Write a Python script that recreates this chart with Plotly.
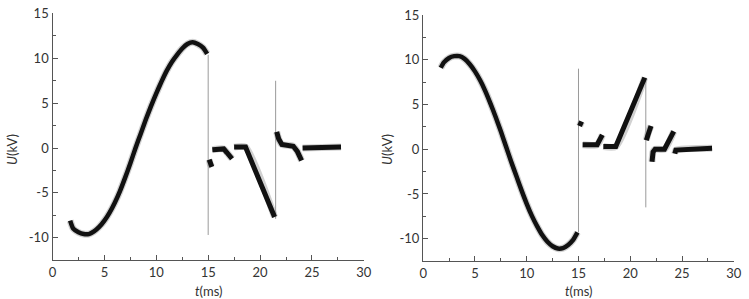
import plotly.graph_objects as go

# ---------------- data ----------------
# Left oscillogram: main waveform (t in ms, U in kV)
t_left_main = [1.7, 2.0, 2.5, 3.0, 3.5, 4.0, 4.5, 5.0, 5.5, 6.0, 6.5, 7.0, 7.5, 8.0,
               8.5, 9.0, 9.5, 10.0, 10.5, 11.0, 11.5, 12.0, 12.5, 13.0, 13.5, 14.0, 14.5, 14.9]
u_left_main = [-8.1, -9.0, -9.4, -9.6, -9.6, -9.3, -8.8, -8.1, -7.2, -6.1, -4.8, -3.3, -1.7, 0.0,
               1.6, 3.2, 4.7, 6.1, 7.4, 8.6, 9.6, 10.4, 11.1, 11.6, 11.8, 11.6, 11.2, 10.5]
# Left oscillogram: segments after switching (None separates segments)
t_left_post = [15.1, 15.2, 15.35, None,
               15.4, 16.5, 16.8, 17.3, None,
               17.5, 18.6, 21.4, None,
               21.6, 21.8, 22.1, 23.2, 23.6, 24.0, None,
               24.1, 27.8]
u_left_post = [-1.3, -1.8, -2.1, None,
               -0.2, -0.1, -0.5, -1.2, None,
               0.1, 0.1, -7.7, None,
               1.8, 1.0, 0.4, 0.2, -0.4, -1.4, None,
               0.0, 0.1]
# Left oscillogram: thin transient spikes
t_left_spike = [15.0, 15.0, None, 21.5, 21.5]
u_left_spike = [10.4, -9.7, None, -7.9, 7.5]

# Right oscillogram: main waveform
t_right_main = [1.7, 2.0, 2.5, 3.0, 3.5, 4.0, 4.5, 5.0, 5.5, 6.0, 6.5, 7.0, 7.5, 8.0,
                8.5, 9.0, 9.5, 10.0, 10.5, 11.0, 11.5, 12.0, 12.5, 13.0, 13.5, 14.0, 14.5, 14.9]
u_right_main = [9.1, 9.7, 10.2, 10.4, 10.4, 10.1, 9.5, 8.7, 7.7, 6.5, 5.1, 3.6, 2.0, 0.3,
                -1.4, -3.0, -4.6, -6.1, -7.45, -8.6, -9.6, -10.35, -10.85, -11.1, -11.05, -10.7, -10.1, -9.3]
t_right_post = [15.1, 15.3, None,
                15.4, 16.8, 17.3, None,
                17.4, 18.6, 21.4, None,
                21.55, 21.75, 22.0, None,
                22.1, 22.2, 22.4, 23.3, 24.2, None,
                24.3, 24.4, 27.9]
u_right_post = [2.6, 3.1, None,
                0.5, 0.5, 1.6, None,
                0.3, 0.3, 8.0, None,
                1.0, 1.9, 2.6, None,
                -1.4, -0.3, 0.0, 0.0, 2.0, None,
                -0.5, -0.1, 0.1]
t_right_spike = [15.0, 15.0, None, 21.5, 21.5]
u_right_spike = [-9.3, 9.0, None, 8.0, -6.5]

x_ticks = [0, 5, 10, 15, 20, 25, 30]
x_tick_labels = ["0", "5", "10", "15", "20", "25", "30"]
y_ticks = [-10, -5, 0, 5, 10, 15]
y_tick_labels = ["-10", "-5", "0", "5", "10", "15"]

# ---------------- figure ----------------
fig = go.Figure()

def add_panel(xa, ya, t_main, u_main, t_post, u_post, t_sp, u_sp):
    # fuzzy halo (noise band)
    for tt, uu in ((t_main, u_main), (t_post, u_post)):
        fig.add_trace(go.Scatter(x=tt, y=uu, mode="lines", xaxis=xa, yaxis=ya,
                                 line=dict(color="rgba(0,0,0,0.18)", width=7, shape="spline", smoothing=0.6),
                                 showlegend=False, hoverinfo="skip", connectgaps=False))
    fig.add_trace(go.Scatter(x=t_sp, y=u_sp, mode="lines", xaxis=xa, yaxis=ya,
                             line=dict(color="#9a9a9a", width=1),
                             showlegend=False, connectgaps=False))
    fig.add_trace(go.Scatter(x=t_main, y=u_main, mode="lines", xaxis=xa, yaxis=ya,
                             line=dict(color="#111111", width=4.5, shape="spline", smoothing=0.6),
                             showlegend=False))
    fig.add_trace(go.Scatter(x=t_post, y=u_post, mode="lines", xaxis=xa, yaxis=ya,
                             line=dict(color="#111111", width=5),
                             showlegend=False, connectgaps=False))

add_panel("x", "y", t_left_main, u_left_main, t_left_post, u_left_post, t_left_spike, u_left_spike)
add_panel("x2", "y2", t_right_main, u_right_main, t_right_post, u_right_post, t_right_spike, u_right_spike)

font_family = "Lato, 'Open Sans', sans-serif"
axis_common = dict(showline=True, linecolor="#555555", linewidth=1.4, mirror=False,
                   showgrid=False, zeroline=False, ticks="inside", ticklen=5,
                   tickwidth=1.2, tickcolor="#555555", ticklabeloverflow="allow",
                   tickfont=dict(family=font_family, size=13, color="#333333"))

xax = dict(axis_common, range=[0, 30], tickmode="array", tickvals=x_ticks, ticktext=x_tick_labels,
           minor=dict(ticks="inside", ticklen=3, tickvals=[2.5, 7.5, 12.5, 17.5, 22.5, 27.5],
                      tickcolor="#555555", tickwidth=1))
yax = dict(axis_common, range=[-12.5, 15.02], tickmode="array", tickvals=y_ticks, ticktext=y_tick_labels,
           minor=dict(ticks="inside", ticklen=3, tickvals=[-12.5, -7.5, -2.5, 2.5, 7.5, 12.5],
                      tickcolor="#555555", tickwidth=1))

fig.update_layout(
    width=749, height=299,
    margin=dict(l=0, r=0, t=0, b=0),
    paper_bgcolor="white", plot_bgcolor="white",
    xaxis=dict(xax, domain=[49.3 / 749, 365.7 / 749], anchor="y"),
    yaxis=dict(yax, domain=[40 / 299, 293.5 / 299], anchor="x"),
    xaxis2=dict(xax, domain=[426 / 749, 741.7 / 749], anchor="y2"),
    yaxis2=dict(yax, domain=[39 / 299, 292 / 299], anchor="x2"),
    annotations=[
        dict(text="<i>U</i>(kV)", x=8 / 749, y=(299 - 145) / 299, xref="paper", yref="paper",
             xanchor="center", yanchor="middle",
             textangle=-90, showarrow=False, font=dict(family=font_family, size=13, color="#333333")),
        dict(text="<i>U</i>(kV)", x=389 / 749, y=(299 - 145) / 299, xref="paper", yref="paper",
             xanchor="center", yanchor="middle",
             textangle=-90, showarrow=False, font=dict(family=font_family, size=13, color="#333333")),
        dict(text="<i>t</i>(ms)", x=207.5 / 749, y=(299 - 291) / 299, xref="paper", yref="paper",
             xanchor="center", yanchor="middle",
             showarrow=False, font=dict(family=font_family, size=13, color="#333333")),
        dict(text="<i>t</i>(ms)", x=584 / 749, y=(299 - 291) / 299, xref="paper", yref="paper",
             xanchor="center", yanchor="middle",
             showarrow=False, font=dict(family=font_family, size=13, color="#333333")),
    ],
)

fig.write_html("out.html", config={"displayModeBar": False},
               post_script="document.body.style.margin='0';document.body.style.overflow='hidden';")
